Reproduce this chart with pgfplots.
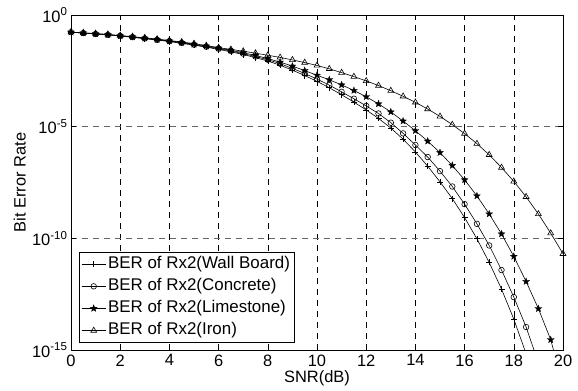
\documentclass[border=0pt]{standalone}
\usepackage{pgfplots}
\pgfplotsset{compat=1.18}
\usepackage{fontspec}
\setmainfont{Liberation Sans}
\pgfdeclareplotmark{fstar}{%
  \pgfpathmoveto{\pgfpointpolar{90}{\pgfplotmarksize}}%
  \pgfpathlineto{\pgfpointpolar{126}{0.42\pgfplotmarksize}}%
  \pgfpathlineto{\pgfpointpolar{162}{\pgfplotmarksize}}%
  \pgfpathlineto{\pgfpointpolar{198}{0.42\pgfplotmarksize}}%
  \pgfpathlineto{\pgfpointpolar{234}{\pgfplotmarksize}}%
  \pgfpathlineto{\pgfpointpolar{270}{0.42\pgfplotmarksize}}%
  \pgfpathlineto{\pgfpointpolar{306}{\pgfplotmarksize}}%
  \pgfpathlineto{\pgfpointpolar{342}{0.42\pgfplotmarksize}}%
  \pgfpathlineto{\pgfpointpolar{18}{\pgfplotmarksize}}%
  \pgfpathlineto{\pgfpointpolar{54}{0.42\pgfplotmarksize}}%
  \pgfpathclose
  \pgfusepathqfillstroke
}
\begin{document}
\begin{tikzpicture}[font=\fontsize{16.5}{19}\selectfont]
\path[use as bounding box] (-71bp,-41bp) rectangle (507bp,350bp);
\begin{axis}[
  scale only axis, width=492bp, height=335bp,
  at={(0,0)}, anchor=south west,
  xmin=0, xmax=20, ymin=1e-15, ymax=1,
  ymode=log,
  xtick={0,2,...,20},
  ytick={1e-15,1e-10,1e-5,1},
  yticklabels={10\textsuperscript{-15},10\textsuperscript{-10},10\textsuperscript{-5},10\textsuperscript{0}},
  /pgf/number format/assume math mode=true,
  xticklabel style={yshift=-1bp},
  tick align=inside, major tick length=5bp, minor tick num=0,
  yminorticks=false,
  axis line style={line width=0.8bp},
  every tick/.style={black, line width=0.6bp},
  grid=major,
  major grid style={black, line width=0.6bp, dash pattern=on 6bp off 5bp},
  y grid style={black!60},
  xlabel={SNR(dB)}, ylabel={Bit Error Rate},
  every axis x label/.style={at={(axis description cs:0.5,-0.0836)}, anchor=center},
  every axis y label/.style={at={(axis description cs:-0.104,0.5)}, rotate=90, anchor=center},
  legend style={at={(0.0163,0.021)}, anchor=south west, draw=black, line width=0.8bp,
    font=\fontsize{17}{19}\selectfont,
    cells={anchor=west}, inner xsep=2bp, inner ysep=1bp,
    nodes={text height=12.5bp, text depth=4bp, inner ysep=2.8bp, inner xsep=2bp}},
  legend image code/.code={\draw[mark repeat=2,mark phase=2] plot coordinates {(0bp,0bp) (12bp,0bp) (24bp,0bp)};},
]
\addplot[black, line width=0.6bp, mark=+, mark size=3bp, mark options={solid}] coordinates {
(0,0.170) (0.5,0.155) (1,0.141) (1.5,0.129) (2,0.115) (2.5,0.100) (3,0.871e-1) (3.5,0.759e-1)
(4,0.646e-1) (4.5,0.537e-1) (5,0.447e-1) (5.5,0.363e-1) (6,0.288e-1) (6.5,0.224e-1) (7,0.170e-1)
(7.5,0.123e-1) (8,0.871e-2) (8.5,0.562e-2) (9,0.339e-2) (9.5,0.195e-2) (10,0.107e-2)
(10.5,0.550e-3) (11,0.269e-3) (11.5,0.126e-3) (12,0.562e-4) (12.5,0.234e-4) (13,0.871e-5)
(13.5,0.275e-5) (14,0.741e-6) (14.5,0.170e-6) (15,0.339e-7) (15.5,0.603e-8) (16,0.851e-9)
(16.5,0.955e-10) (17,0.832e-11) (17.5,0.537e-12) (18,0.240e-13) (18.77,1e-16)
};
\addlegendentry{BER of Rx2(Wall Board)}
\addplot[black, line width=0.6bp, mark=o, mark size=2.8bp, mark options={solid}] coordinates {
(0,0.170) (0.5,0.155) (1,0.141) (1.5,0.129) (2,0.117) (2.5,0.102) (3,0.891e-1) (3.5,0.776e-1)
(4,0.676e-1) (4.5,0.562e-1) (5,0.468e-1) (5.5,0.380e-1) (6,0.309e-1) (6.5,0.245e-1) (7,0.186e-1)
(7.5,0.138e-1) (8,0.100e-1) (8.5,0.661e-2) (9,0.407e-2) (9.5,0.240e-2) (10,0.135e-2)
(10.5,0.724e-3) (11,0.363e-3) (11.5,0.178e-3) (12,0.851e-4) (12.5,0.389e-4) (13,0.151e-4)
(13.5,0.501e-5) (14,0.151e-5) (14.5,0.437e-6) (15,0.102e-6) (15.5,0.209e-7) (16,0.339e-8)
(16.5,0.447e-9) (17,0.479e-10) (17.5,0.380e-11) (18,0.234e-12) (18.5,0.107e-13) (19.13,1e-16)
};
\addlegendentry{BER of Rx2(Concrete)}
\addplot[black, line width=0.6bp, mark=fstar, mark size=3.6bp, mark options={solid, fill=black, line width=0.3bp}] coordinates {
(0,0.170) (0.5,0.158) (1,0.145) (1.5,0.132) (2,0.117) (2.5,0.105) (3,0.912e-1) (3.5,0.794e-1)
(4,0.692e-1) (4.5,0.589e-1) (5,0.490e-1) (5.5,0.407e-1) (6,0.331e-1) (6.5,0.263e-1) (7,0.204e-1)
(7.5,0.155e-1) (8,0.112e-1) (8.5,0.776e-2) (9,0.513e-2) (9.5,0.324e-2) (10,0.200e-2)
(10.5,0.126e-2) (11,0.741e-3) (11.5,0.417e-3) (12,0.219e-3) (12.5,0.105e-3) (13,0.457e-4)
(13.5,0.178e-4) (14,0.661e-5) (14.5,0.224e-5) (15,0.692e-6) (15.5,0.182e-6) (16,0.417e-7)
(16.5,0.794e-8) (17,0.123e-8) (17.5,0.158e-9) (18,0.155e-10) (18.5,0.117e-11) (19,0.708e-13)
(19.5,0.288e-14) (19.86,1e-16)
};
\addlegendentry{BER of Rx2(Limestone)}
\addplot[black, line width=0.6bp, mark=triangle, mark size=3.4bp, mark options={solid}] coordinates {
(0,0.170) (0.5,0.158) (1,0.148) (1.5,0.135) (2,0.120) (2.5,0.107) (3,0.955e-1) (3.5,0.832e-1)
(4,0.724e-1) (4.5,0.617e-1) (5,0.525e-1) (5.5,0.427e-1) (6,0.347e-1) (6.5,0.288e-1) (7,0.240e-1)
(7.5,0.195e-1) (8,0.158e-1) (8.5,0.126e-1) (9,0.977e-2) (9.5,0.741e-2) (10,0.550e-2)
(10.5,0.389e-2) (11,0.263e-2) (11.5,0.174e-2) (12,0.112e-2) (12.5,0.692e-3) (13,0.407e-3)
(13.5,0.229e-3) (14,0.123e-3) (14.5,0.617e-4) (15,0.288e-4) (15.5,0.123e-4) (16,0.490e-5)
(16.5,0.174e-5) (17,0.550e-6) (17.5,0.148e-6) (18,0.355e-7) (18.5,0.724e-8) (19,0.123e-8)
(19.5,0.170e-9) (20,0.204e-10)
};
\addlegendentry{BER of Rx2(Iron)}
\end{axis}
\end{tikzpicture}
\end{document}
